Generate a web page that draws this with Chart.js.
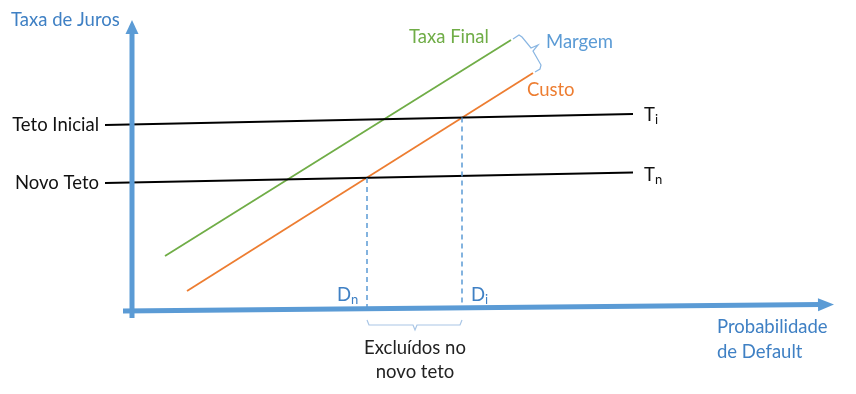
<!DOCTYPE html>
<html><head><meta charset="utf-8">
<script src="https://cdn.jsdelivr.net/npm/chart.js@4"></script>
<style>html,body{margin:0;padding:0;background:#fff}canvas{display:block}</style>
</head><body>
<canvas id="c" width="856" height="394"></canvas>
<script>
// Diagram coordinates: x = probabilidade de default, y = taxa de juros (arbitrary units)
const yAxisLine   = [{x:132,y:76},{x:132,y:362}];
const xAxisLine   = [{x:123,y:83},{x:820,y:89.4}];
const tetoInicial = [{x:105,y:269},{x:633,y:280}];
const novoTeto    = [{x:105,y:211},{x:633,y:221.5}];
const taxaFinal   = [{x:165,y:138},{x:511,y:354}];
const custo       = [{x:187,y:103},{x:533,y:321}];
const corteDn     = [{x:367,y:216},{x:367,y:85}];
const corteDi     = [{x:462,y:276.5},{x:462,y:86}];
const chaveMargem = [{x:513,y:355},{x:519,y:359},{x:522,y:357},{x:531,y:346},{x:538,y:349},{x:533,y:343},{x:541,y:329},{x:540,y:325},{x:535,y:322}];
const chaveExcl   = [{x:367,y:74},{x:369,y:69},{x:413,y:69},{x:415,y:64},{x:417,y:69},{x:460,y:69},{x:462,y:74}];
const arrowY = {base:{x:132,y:360},tip:{x:132,y:374}};
const arrowX = {base:{x:818,y:89.3},tip:{x:834,y:89.5}};
const labels = [
  {t:'Taxa de Juros', x:11,  y:374, align:'left',  color:'#3f80c4'},
  {t:'Teto Inicial',  x:99,  y:269, align:'right', color:'#111'},
  {t:'Novo Teto',     x:99,  y:211, align:'right', color:'#111'},
  {t:'Taxa Final',    x:409, y:357, align:'left',  color:'#70ad47'},
  {t:'Margem',        x:546, y:352, align:'left',  color:'#5b9bd5'},
  {t:'Custo',         x:527, y:304, align:'left',  color:'#ed7d31'},
  {t:'Excluídos no',  x:415, y:46,  align:'center',color:'#222'},
  {t:'novo teto',     x:415, y:22,  align:'center',color:'#222'},
  {t:'Probabilidade', x:717, y:67,  align:'left',  color:'#3f80c4'},
  {t:'de Default',    x:717, y:42,  align:'left',  color:'#3f80c4'}
];
const subLabels = [
  {t:'T', s:'i', x:644, y:279, color:'#111'},
  {t:'T', s:'n', x:644, y:219, color:'#111'},
  {t:'D', s:'n', x:337, y:99,  color:'#3f80c4'},
  {t:'D', s:'i', x:471, y:99,  color:'#3f80c4'}
];

const FONT = 'Lato, "Open Sans", sans-serif';
const FS = 18.5;

const deco = {
  id:'deco',
  afterDatasetsDraw(chart){
    const ctx = chart.ctx, xs = chart.scales.x, ys = chart.scales.y;
    const P = p => [xs.getPixelForValue(p.x), ys.getPixelForValue(p.y)];
    function arrow(a, color){
      const [bx,by] = P(a.base), [tx,ty] = P(a.tip);
      const dx = tx-bx, dy = ty-by, L = Math.hypot(dx,dy);
      const nx = -dy/L*6.5, ny = dx/L*6.5;
      ctx.save(); ctx.fillStyle = color; ctx.beginPath();
      ctx.moveTo(tx,ty); ctx.lineTo(bx+nx,by+ny); ctx.lineTo(bx-nx,by-ny); ctx.closePath(); ctx.fill(); ctx.restore();
    }
    arrow(arrowY,'#5b9bd5'); arrow(arrowX,'#5b9bd5');
    ctx.save();
    ctx.textBaseline = 'middle';
    labels.forEach(l => {
      const [px,py] = P(l);
      ctx.font = FS + 'px ' + FONT; ctx.fillStyle = l.color; ctx.textAlign = l.align;
      ctx.fillText(l.t, px, py);
    });
    subLabels.forEach(l => {
      const [px,py] = P(l);
      ctx.font = FS + 'px ' + FONT; ctx.fillStyle = l.color; ctx.textAlign = 'left';
      ctx.fillText(l.t, px, py);
      const w = ctx.measureText(l.t).width;
      ctx.font = '13px ' + FONT;
      ctx.fillText(l.s, px + w, py + 5);
    });
    ctx.restore();
  }
};

const ds = (data, color, width, dash) => ({
  data, borderColor: color, borderWidth: width, borderDash: dash || [],
  showLine: true, pointRadius: 0, fill: false, tension: 0
});

new Chart(document.getElementById('c'), {
  type: 'scatter',
  data: { datasets: [
    ds(yAxisLine, '#5b9bd5', 5),
    ds(xAxisLine, '#5b9bd5', 5),
    ds(corteDn, '#5b9bd5', 1.5, [5,4]),
    ds(corteDi, '#5b9bd5', 1.5, [5,4]),
    ds(tetoInicial, '#000', 2),
    ds(novoTeto, '#000', 2),
    ds(taxaFinal, '#70ad47', 1.8),
    ds(custo, '#ed7d31', 1.8),
    ds(chaveMargem, '#8ab6e2', 1.2),
    ds(chaveExcl, '#a9c6e6', 1.2)
  ]},
  options: {
    responsive: false, animation: false, devicePixelRatio: 1,
    layout: { padding: 0 },
    plugins: { legend: {display:false}, tooltip: {enabled:false} },
    scales: {
      x: { type:'linear', min:0, max:856, display:false },
      y: { type:'linear', min:0, max:394, display:false }
    }
  },
  plugins: [deco]
});
</script>
</body></html>
